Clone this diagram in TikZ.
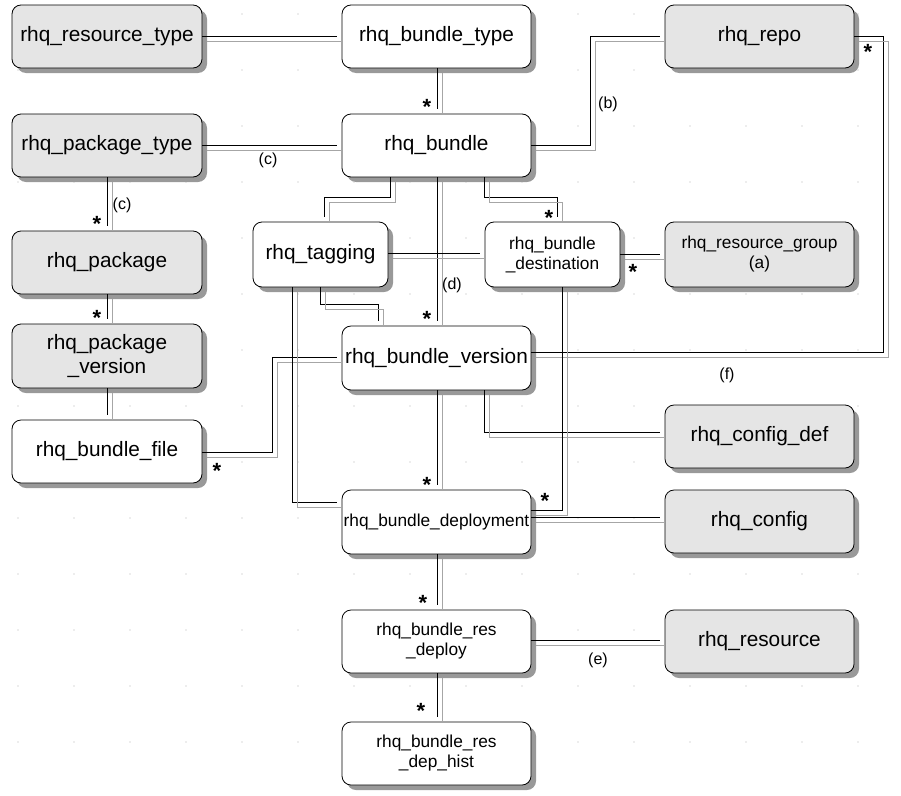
\documentclass[tikz,border=0pt]{standalone}
\usepackage{fontspec}
\setmainfont{Liberation Sans}
\begin{document}
\begin{tikzpicture}[x=1pt,y=-1pt,
  box/.style={draw=black,rounded corners=9pt,line width=0.8pt,align=center,inner sep=0pt,
    font=\fontsize{20.8}{23.5}\selectfont},
  wb/.style={box,fill=white},
  gb/.style={box,fill=black!10},
  sm/.style={font=\fontsize{17.3}{20}\selectfont},
  lab/.style={font=\fontsize{16}{18}\selectfont},
  st/.style={font=\fontsize{22}{22}\selectfont\bfseries},
  blk/.style={draw=black,line width=0.8pt},
  gry/.style={draw=black!35,line width=0.8pt}]
\useasboundingbox (0,0) rectangle (901,795);
\foreach \x in {18,74,...,901} \foreach \y in {14,70,...,795} \fill[black!30] (\x,\y) circle (0.7);
\newcommand\bx[6]{%
  \fill[black!40] (#2+5,#3+5) [rounded corners=9pt] rectangle (#4+5,#5+5);
  \node[#6,minimum width=#4-#2,minimum height=#5-#3] (#1) at ({(#2+#4)/2},{(#3+#5)/2}) {};}
\bx{rt}{12}{5}{202}{68}{gb}
\bx{bt}{342}{5}{531}{68}{wb}
\bx{repo}{665}{5}{854}{68}{gb}
\bx{pt}{12}{114}{202}{177}{gb}
\bx{b}{342}{114}{531}{177}{wb}
\bx{pk}{12}{231}{202}{294}{gb}
\bx{tg}{253}{222}{388}{287}{wb}
\bx{bd}{485}{222}{620}{287}{wb}
\bx{rg}{665}{222}{854}{287}{gb}
\bx{pv}{12}{324}{202}{388}{gb}
\bx{bv}{342}{326}{531}{390}{wb}
\bx{bf}{12}{420}{202}{483}{wb}
\bx{cd}{665}{405}{854}{468}{gb}
\bx{dep}{342}{490}{531}{554}{wb}
\bx{cf}{665}{490}{854}{553}{gb}
\bx{rd}{342}{610}{531}{673}{wb}
\bx{rs}{665}{610}{854}{673}{gb}
\bx{hi}{342}{722}{531}{785}{wb}
\newcommand\cn[1]{\draw[blk] #1; \draw[gry,shift={(5,5)}] #1;}
\cn{(202,36) -- (337,36)}
\cn{(437,68) -- (437,109)}
\cn{(202,145) -- (337,145)}
\cn{(531,145) -- (590,145) -- (590,36) -- (660,36)}
\cn{(107,177) -- (107,226)}
\cn{(107,294) -- (107,319)}
\cn{(107,388) -- (107,415)}
\cn{(390,177) -- (390,197) -- (324,197) -- (324,217)}
\cn{(484,177) -- (484,197) -- (557,197) -- (557,217)}
\cn{(437,177) -- (437,321)}
\cn{(388,253) -- (480,253)}
\cn{(320,287) -- (320,304) -- (378,304) -- (378,321)}
\cn{(620,254) -- (660,254)}
\cn{(854,36) -- (883,36) -- (883,352) -- (531,352)}
\cn{(202,452) -- (272,452) -- (272,357) -- (337,357)}
\cn{(484,390) -- (484,432) -- (660,432)}
\cn{(292,287) -- (292,502) -- (337,502)}
\cn{(437,390) -- (437,485)}
\cn{(562,287) -- (562,510) -- (531,510)}
\cn{(531,517) -- (660,517)}
\cn{(437,554) -- (437,605)}
\cn{(531,640) -- (660,640)}
\cn{(437,673) -- (437,717)}
\foreach \n/\t in {rt/rhq\_resource\_type,bt/rhq\_bundle\_type,repo/rhq\_repo,pt/rhq\_package\_type,
  b/rhq\_bundle,pk/rhq\_package,tg/rhq\_tagging,pv/{rhq\_package\\\_version},bv/rhq\_bundle\_version,
  bf/rhq\_bundle\_file,cd/rhq\_config\_def,cf/rhq\_config,rs/rhq\_resource}
  {\node[box,fill=none,draw=none] at (\n) {\t};}
\node[box,draw=none,sm] at (bd) {rhq\_bundle\\\_destination};
\node[box,draw=none,sm] at (rg) {rhq\_resource\_group\\(a)};
\node[box,draw=none,sm] at (dep) {rhq\_bundle\_deployment};
\node[box,draw=none,sm] at (rd) {rhq\_bundle\_res\\\_deploy};
\node[box,draw=none,sm] at (hi) {rhq\_bundle\_res\\\_dep\_hist};
\node[lab] (lc1) at (268,160) {(c)};
\node[lab] (lc2) at (122,205) {(c)};
\node[lab] (lb) at (608,104) {(b)};
\node[lab] (ld) at (452,285) {(d)};
\node[lab] (lf) at (727,375) {(f)};
\node[lab] (le) at (598,660) {(e)};
\foreach \p/\q in {427/107,97/224,97/318,549/218,633/272,427/319,868/52,217/471,427/485,545/501,423/603,421/711}
  \node[st] at (\p,\q) {*};
\end{tikzpicture}
\end{document}
